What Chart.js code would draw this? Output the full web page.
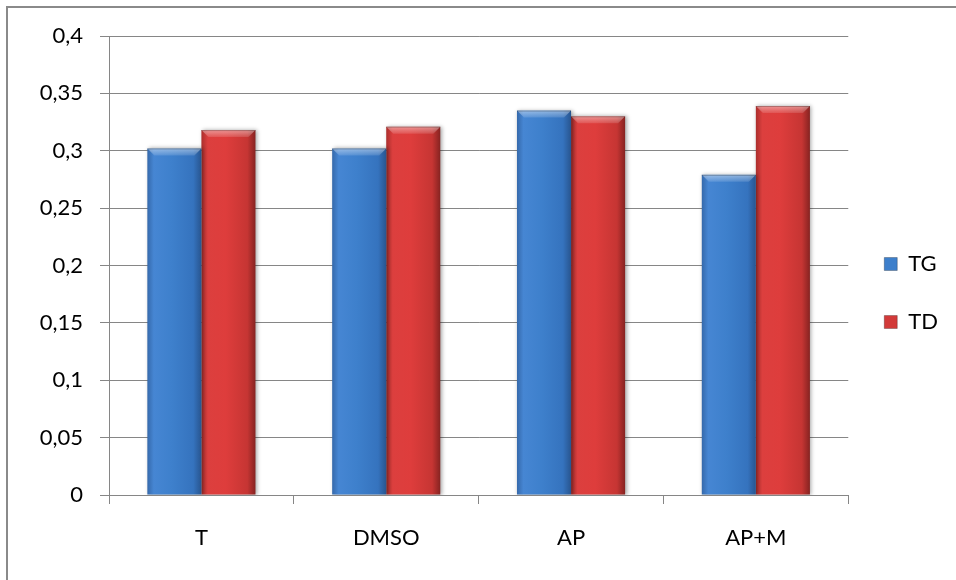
<!DOCTYPE html>
<html>
<head>
<meta charset="utf-8">
<script src="https://cdn.jsdelivr.net/npm/chart.js@4/dist/chart.umd.min.js"></script>
<style>
  html, body { margin: 0; padding: 0; background: #fff; }
  #wrap { width: 956px; height: 580px; position: relative; }
</style>
</head>
<body>
<div id="wrap"><canvas id="c" width="956" height="580"></canvas></div>
<script>
// Groups and measured values
const categories = ['T', 'DMSO', 'AP', 'AP+M'];
const tgValues = [0.302, 0.302, 0.335, 0.279];
const tdValues = [0.318, 0.321, 0.330, 0.339];
const seriesNames = ['TG', 'TD'];
const yTicks = { min: 0, max: 0.4, step: 0.05 };

const FONT = 'Lato, "Open Sans", sans-serif';
const GRID = '#868686';

// Horizontal shading that gives each bar a rounded, glossy look
const blueStops = [[0, '#3569ab'], [0.12, '#4686d3'], [0.45, '#3e80cc'], [0.85, '#3573be'], [1, '#28558f']];
const redStops  = [[0, '#ab2f2d'], [0.12, '#dc3f3e'], [0.45, '#de3d3c'], [0.85, '#c63533'], [1, '#862321']];

function barFill(stops) {
  return (ctx) => {
    const base = stops[2][1];
    if (ctx.type !== 'data') return base;
    const chart = ctx.chart;
    const el = chart.getDatasetMeta(ctx.datasetIndex).data[ctx.dataIndex];
    if (!el || !isFinite(el.x) || !el.width) return base;
    const g = chart.ctx.createLinearGradient(el.x - el.width / 2, 0, el.x + el.width / 2, 0);
    stops.forEach(s => g.addColorStop(s[0], s[1]));
    return g;
  };
}

const formatTick = (v) => String(Math.round(v * 100) / 100).replace('.', ',');

// Page frame, bar shadows and the bevelled bar tops
const decor = {
  id: 'decor',
  beforeDraw(chart) {
    const c = chart.ctx;
    c.save();
    c.fillStyle = '#fff';
    c.fillRect(0, 0, chart.width, chart.height);
    c.strokeStyle = '#8a8a8a';
    c.lineWidth = 2;
    c.beginPath();
    c.moveTo(7, chart.height);
    c.lineTo(7, 7);
    c.lineTo(chart.width, 7);
    c.stroke();
    c.restore();
  },
  beforeDatasetsDraw(chart) {
    const c = chart.ctx;
    c.save();
    c.shadowColor = 'rgba(0,0,0,0.35)';
    c.shadowBlur = 4;
    c.shadowOffsetX = 1.5;
    c.shadowOffsetY = 0;
  },
  afterDatasetsDraw(chart) {
    const c = chart.ctx;
    c.restore();
    c.save();
    chart.data.datasets.forEach((ds, di) => {
      const meta = chart.getDatasetMeta(di);
      meta.data.forEach((el) => {
        const l = el.x - el.width / 2, r = el.x + el.width / 2, t = el.y;
        const d = 7;
        c.beginPath();
        c.moveTo(l, t);
        c.lineTo(r, t);
        c.lineTo(r - d, t + d);
        c.lineTo(l + d, t + d);
        c.closePath();
        const g = c.createLinearGradient(0, t, 0, t + d);
        g.addColorStop(0, 'rgba(255,255,255,0.45)');
        g.addColorStop(1, 'rgba(255,255,255,0.12)');
        c.fillStyle = g;
        c.fill();
        c.strokeStyle = 'rgba(0,0,0,0.25)';
        c.lineWidth = 1;
        c.beginPath();
        c.moveTo(l, t + 0.5);
        c.lineTo(r, t + 0.5);
        c.stroke();
      });
    });
    c.restore();
  }
};

const legendColors = ['#3d7fcb', '#d23a39'];

const chart = new Chart(document.getElementById('c'), {
  type: 'bar',
  data: {
    labels: categories,
    datasets: [
      { label: seriesNames[0], data: tgValues, backgroundColor: barFill(blueStops), borderWidth: 0 },
      { label: seriesNames[1], data: tdValues, backgroundColor: barFill(redStops), borderWidth: 0 }
    ]
  },
  options: {
    responsive: false,
    animation: false,
    events: [],
    layout: { padding: { left: 0, top: 36, right: 8, bottom: 30 } },
    datasets: { bar: { categoryPercentage: 0.585, barPercentage: 1 } },
    scales: {
      x: {
        afterFit: (s) => { s.height = 55; },
        grid: { display: true, drawOnChartArea: false, drawTicks: true, tickLength: 9, color: GRID, offset: true },
        border: { display: true, color: GRID, width: 1 },
        ticks: { color: '#000', font: { family: FONT, size: 22 }, padding: 21 }
      },
      y: {
        min: yTicks.min,
        max: yTicks.max,
        afterFit: (s) => { s.width = 109; },
        grid: { color: GRID, lineWidth: 1, drawTicks: true, tickLength: 9 },
        border: { display: true, color: GRID, width: 1 },
        ticks: { stepSize: yTicks.step, color: '#000', font: { family: FONT, size: 22 }, padding: 17, callback: formatTick }
      }
    },
    plugins: {
      tooltip: { enabled: false },
      legend: {
        position: 'right',
        labels: {
          color: '#000',
          font: { family: FONT, size: 22 },
          boxWidth: 13,
          boxHeight: 13,
          padding: 36,
          generateLabels: (ch) => ch.data.datasets.map((ds, i) => ({
            text: ds.label,
            fillStyle: legendColors[i],
            strokeStyle: 'rgba(0,0,0,0.25)',
            lineWidth: 1,
            hidden: false,
            datasetIndex: i,
            fontColor: '#000'
          }))
        }
      }
    }
  },
  plugins: [decor]
});
// second pass so the per-bar gradients follow the laid-out bar positions
chart.update('none');
</script>
</body>
</html>
